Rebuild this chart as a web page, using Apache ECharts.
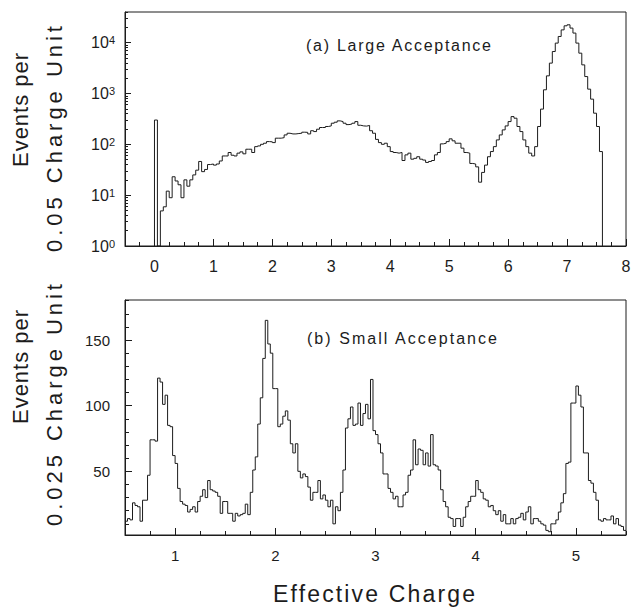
<!DOCTYPE html>
<html><head><meta charset="utf-8">
<script src="https://cdn.jsdelivr.net/npm/echarts@6/dist/echarts.min.js"></script>
<style>html,body{margin:0;padding:0;background:#fff}#c{width:636px;height:609px}</style>
</head><body><div id="c"></div>
<script>
// ---------- data ----------
const topBinStart = 0;
const topBinWidth = 0.05;
const topCounts = [
  300, 0, 4.9, 5.9, 12, 8.9, 23, 19, 16, 8.9, 20, 15, 20, 25, 31, 46, 29, 32, 40, 41,
  39, 41, 47, 59, 59, 69, 61, 59, 67, 71, 65, 80, 80, 69, 90, 93, 100, 105, 113, 112,
  108, 132, 132, 135, 153, 165, 160, 160, 163, 165, 173, 172, 160, 185, 178, 198, 214, 214, 224, 230,
  260, 272, 289, 280, 260, 244, 250, 260, 280, 237, 230, 228, 235, 185, 165, 125, 108, 100, 105, 90,
  72, 69, 67, 69, 48, 62, 67, 51, 53, 57, 51, 49, 44, 46, 48, 62, 69, 102, 105, 113,
  128, 117, 105, 105, 84, 69, 67, 42, 41, 36, 18, 28, 39, 57, 72, 90, 122, 153, 192, 230,
  280, 351, 326, 224, 178, 122, 90, 67, 59, 90, 224, 492, 1180, 2220, 3950, 6680, 9780, 13200, 17800, 21400,
  22400, 19300, 15400, 9780, 6200, 3650, 2150, 1216, 773, 409, 224, 72
];
const botBinStart = 0.5;
const botBinWidth = 0.025;
const botCounts = [
  12, 14, 13, 26, 24, 23, 12, 28, 28, 47, 74, 74, 73, 121, 118, 101, 108, 85, 84, 62,
  56, 37, 27, 25, 24, 19, 21, 23, 19, 27, 31, 36, 30, 43, 36, 35, 34, 31, 18, 27,
  27, 18, 18, 12, 18, 16, 17, 18, 25, 17, 34, 51, 61, 86, 106, 136, 165, 147, 140, 113,
  113, 84, 86, 92, 96, 89, 71, 64, 71, 50, 45, 48, 46, 38, 28, 34, 34, 43, 29, 32,
  28, 23, 28, 10, 23, 20, 34, 51, 83, 90, 99, 85, 86, 102, 85, 94, 101, 90, 120, 81,
  78, 71, 64, 48, 48, 37, 34, 29, 31, 23, 23, 32, 34, 47, 51, 74, 55, 67, 66, 55,
  64, 54, 78, 55, 54, 51, 36, 27, 23, 15, 14, 8, 14, 14, 8, 15, 23, 27, 31, 31,
  43, 36, 34, 29, 28, 23, 24, 20, 17, 20, 12, 17, 10, 10, 14, 10, 14, 15, 18, 13,
  19, 23, 10, 14, 14, 12, 10, 9, 5, 4, 10, 10, 13, 19, 26, 33, 56, 57, 102, 102,
  115, 108, 99, 64, 64, 43, 41, 34, 28, 13, 12, 14, 13, 13, 16, 10, 14, 9, 8, 5
];
const topXTicks = [0, 1, 2, 3, 4, 5, 6, 7, 8];
const topYTicks = [1, 10, 100, 1000, 10000];
const botXTicks = [1, 2, 3, 4, 5];
const botYTicks = [50, 100, 150];
const minorMultipliers = [2, 3, 4, 5, 6, 7, 8, 9];

// ---------- helpers ----------
const FONT = '"Liberation Sans", Arial, sans-serif';
const INK = '#1c1c1c';
const TOP_X = [-0.5, 8], TOP_Y = [1, 40000];
const BOT_X = [0.5, 5.5], BOT_Y = [1.5, 180.5];

function r(v) { return Math.round(v * 10000) / 10000; }
function stepsFrom(start, width, counts, floor, dropEnds) {
  const pts = [];
  if (dropEnds) pts.push([start, floor]);
  counts.forEach((c, i) => pts.push([r(start + i * width), Math.max(c, floor)]));
  const end = r(start + counts.length * width);
  pts.push([end, dropEnds ? floor : counts[counts.length - 1]]);
  return pts;
}
function range(a, b, s) { const o = []; for (let v = a; v <= b + 1e-9; v += s) o.push(r(v)); return o; }

const topXMinor = range(TOP_X[0], TOP_X[1], 0.25);
const botXMinor = range(BOT_X[0], BOT_X[1], 0.25);
const botYMinor = range(10, 180, 10);
const topYMinor = [];
topYTicks.forEach(d => minorMultipliers.forEach(m => { if (d * m <= TOP_Y[1]) topYMinor.push(d * m); }));

function xAxisPair(grid, ext, major, minor) {
  return [
    { gridIndex: grid, type: 'value', min: ext[0], max: ext[1], position: 'bottom',
      axisLine: { show: true, onZero: false, lineStyle: { color: INK, width: 1 } },
      axisTick: { show: true, inside: true, length: 7, customValues: major, lineStyle: { color: INK } },
      axisLabel: { customValues: major, fontSize: grid === 0 ? 16 : 15, margin: grid === 0 ? 12 : 13,
                   color: INK, fontFamily: FONT },
      splitLine: { show: false } },
    { gridIndex: grid, type: 'value', min: ext[0], max: ext[1], position: 'bottom',
      axisLine: { show: false, onZero: false },
      axisTick: { show: true, inside: true, length: 4, customValues: minor, lineStyle: { color: INK } },
      axisLabel: { show: false }, splitLine: { show: false } }
  ];
}

const option = {
  backgroundColor: '#fff',
  animation: false,
  grid: [
    { left: 125, top: 12, width: 501, height: 234, show: true, borderColor: INK, borderWidth: 1 },
    { left: 125, top: 300, width: 501, height: 235, show: true, borderColor: INK, borderWidth: 1 }
  ],
  xAxis: [].concat(xAxisPair(0, TOP_X, topXTicks, topXMinor), xAxisPair(1, BOT_X, botXTicks, botXMinor)),
  yAxis: [
    { gridIndex: 0, type: 'log', logBase: 10, min: TOP_Y[0], max: TOP_Y[1], position: 'left',
      axisLine: { show: true, onZero: false, lineStyle: { color: INK } },
      axisTick: { show: true, inside: true, length: 6, customValues: topYTicks, lineStyle: { color: INK } },
      axisLabel: { customValues: topYTicks, margin: 10, color: INK,
        formatter: v => '{b|10}{s|' + Math.round(Math.log10(v)) + '}',
        rich: {
          b: { fontSize: 16, fontFamily: FONT, color: INK, verticalAlign: 'bottom', lineHeight: 16 },
          s: { fontSize: 11, fontFamily: FONT, color: INK, verticalAlign: 'top', lineHeight: 11, padding: [0, 0, 7, 0] }
        } },
      splitLine: { show: false } },
    { gridIndex: 0, type: 'log', logBase: 10, min: TOP_Y[0], max: TOP_Y[1], position: 'left',
      axisLine: { show: false, onZero: false },
      axisTick: { show: true, inside: true, length: 3, customValues: topYMinor, lineStyle: { color: INK } },
      axisLabel: { show: false }, splitLine: { show: false } },
    { gridIndex: 1, type: 'value', min: BOT_Y[0], max: BOT_Y[1], position: 'left',
      axisLine: { show: true, onZero: false, lineStyle: { color: INK } },
      axisTick: { show: true, inside: true, length: 7, customValues: botYTicks, lineStyle: { color: INK } },
      axisLabel: { customValues: botYTicks, margin: 15, fontSize: 15, color: INK, fontFamily: FONT },
      splitLine: { show: false } },
    { gridIndex: 1, type: 'value', min: BOT_Y[0], max: BOT_Y[1], position: 'left',
      axisLine: { show: false, onZero: false },
      axisTick: { show: true, inside: true, length: 4, customValues: botYMinor, lineStyle: { color: INK } },
      axisLabel: { show: false }, splitLine: { show: false } }
  ],
  series: [
    { type: 'line', xAxisIndex: 0, yAxisIndex: 0, step: 'end', symbol: 'none', silent: true,
      data: stepsFrom(topBinStart, topBinWidth, topCounts, TOP_Y[0], true),
      lineStyle: { color: INK, width: 1 } },
    { type: 'line', xAxisIndex: 2, yAxisIndex: 2, step: 'end', symbol: 'none', silent: true,
      data: stepsFrom(botBinStart, botBinWidth, botCounts, BOT_Y[0], false),
      lineStyle: { color: INK, width: 1 } }
  ],
  graphic: [
    { type: 'text', x: 20, y: 110, rotation: Math.PI / 2,
      style: { text: 'Events per', font: '22px ' + FONT, fill: INK, align: 'center', verticalAlign: 'middle' } },
    { type: 'text', x: 54, y: 139, rotation: Math.PI / 2,
      style: { text: '0.05 Charge Unit', font: '22px ' + FONT, fill: INK, align: 'center', verticalAlign: 'middle' } },
    { type: 'text', x: 20, y: 367, rotation: Math.PI / 2,
      style: { text: 'Events per', font: '22px ' + FONT, fill: INK, align: 'center', verticalAlign: 'middle' } },
    { type: 'text', x: 54, y: 405, rotation: Math.PI / 2,
      style: { text: '0.025 Charge Unit', font: '22px ' + FONT, fill: INK, align: 'center', verticalAlign: 'middle' } },
    { type: 'text', x: 374, y: 594,
      style: { text: 'Effective Charge', font: '23px ' + FONT, fill: INK, align: 'center', verticalAlign: 'middle' } },
    { type: 'text', x: 306, y: 45,
      style: { text: '(a) Large Acceptance', font: '16px ' + FONT, fill: INK, align: 'left', verticalAlign: 'middle' } },
    { type: 'text', x: 307, y: 338,
      style: { text: '(b) Small Acceptance', font: '16px ' + FONT, fill: INK, align: 'left', verticalAlign: 'middle' } }
  ]
};

// widths of the letter-spaced captions in the reference
const spacedWidths = {
  'Events per': 114, '0.05 Charge Unit': 226, '0.025 Charge Unit': 242,
  'Effective Charge': 202, '(a) Large Acceptance': 185, '(b) Small Acceptance': 190
};
const chart = echarts.init(document.getElementById('c'), null, { renderer: 'svg' });
function spaceOut() {
  document.querySelectorAll('#c svg text').forEach(t => {
    const w = spacedWidths[t.textContent];
    if (w) { t.setAttribute('textLength', w); t.setAttribute('lengthAdjust', 'spacing'); }
  });
}
chart.on('finished', spaceOut);
chart.setOption(option);
setTimeout(spaceOut, 50);
</script></body></html>
